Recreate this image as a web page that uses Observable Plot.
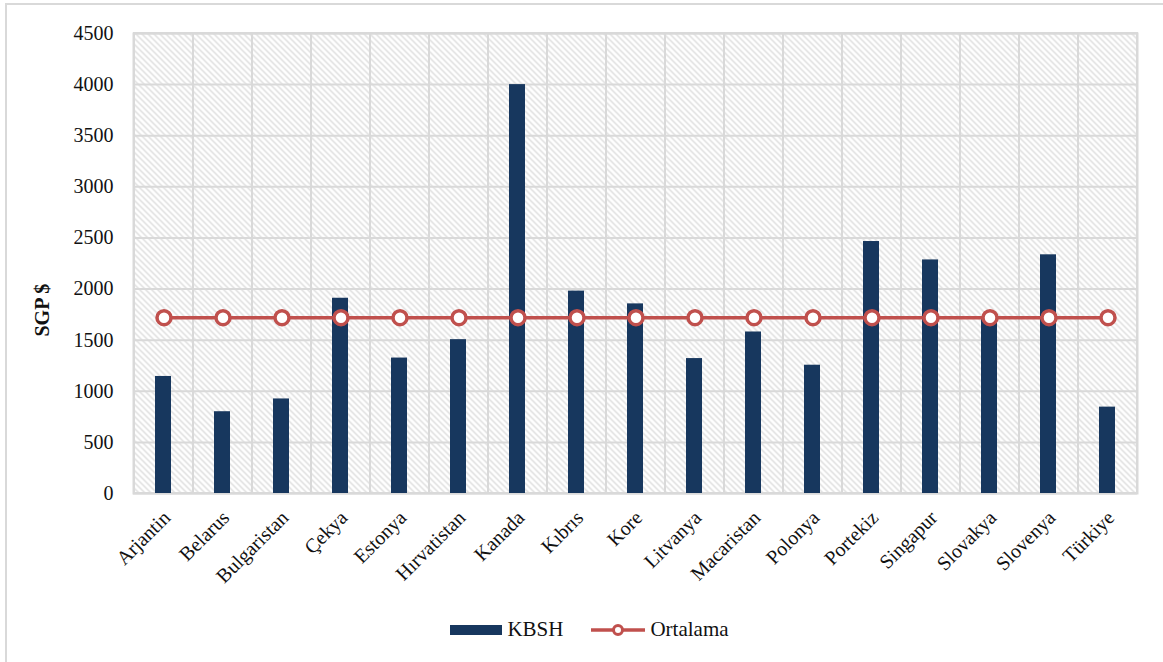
<!DOCTYPE html>
<html>
<head>
<meta charset="utf-8">
<script src="https://cdn.jsdelivr.net/npm/d3@7"></script>
<script src="https://cdn.jsdelivr.net/npm/@observablehq/plot@0.6"></script>
<style>
  html, body { margin: 0; padding: 0; background: #fff; }
  body { width: 1163px; height: 662px; position: relative; overflow: hidden; font-family: "Liberation Serif", "Times New Roman", serif; }
  #frame { position: absolute; left: 5px; top: 3px; width: 1200px; height: 700px; border-top: 2px solid #d9d9d9; border-left: 2px solid #d9d9d9; box-sizing: border-box; }
  #chart { position: absolute; left: 0; top: 0; }
  #legend { position: absolute; top: 617px; left: 0; width: 1163px; display: flex; justify-content: center; align-items: center; gap: 28px; font-size: 21px; color: #111; padding-left: 16px; box-sizing: border-box; }
  .item { display: flex; align-items: center; gap: 5px; }
  #chart svg text { font-family: "Liberation Serif", "Times New Roman", serif; }
</style>
</head>
<body>
<div id="frame"></div>
<div id="chart"></div>
<div id="legend"></div>
<script>
// Countries and their KBSH values (SGP $), with the group average
const countries = ["Arjantin", "Belarus", "Bulgaristan", "Çekya", "Estonya", "Hırvatistan", "Kanada", "Kıbrıs", "Kore", "Litvanya", "Macaristan", "Polonya", "Portekiz", "Singapur", "Slovakya", "Slovenya", "Türkiye"];
const kbsh = [1145, 800, 925, 1910, 1325, 1505, 4000, 1980, 1855, 1320, 1580, 1255, 2465, 2285, 1720, 2335, 845];
const ortalama = [1720, 1720, 1720, 1720, 1720, 1720, 1720, 1720, 1720, 1720, 1720, 1720, 1720, 1720, 1720, 1720, 1720];
const yTicks = [0, 500, 1000, 1500, 2000, 2500, 3000, 3500, 4000, 4500];

const rows = countries.map((c, i) => ({country: c, kbsh: kbsh[i], avg: ortalama[i]}));

const serif = "'Liberation Serif', 'Times New Roman', serif";
const barColor = "#17375e";
const lineColor = "#c0504d";
const gridColor = "#d9d9d9";

const plot = Plot.plot({
  width: 1163,
  height: 600,
  marginTop: 33,
  marginRight: 26,
  marginBottom: 107,
  marginLeft: 133,
  style: {fontFamily: serif, fontSize: "20px", color: "#111", background: "transparent"},
  x: {domain: countries, padding: 0},
  y: {domain: [0, 4500]},
  marks: [
    Plot.frame({fill: "url(#hatch)", stroke: gridColor, strokeWidth: 2}),
    Plot.ruleY(yTicks, {stroke: gridColor, strokeWidth: 2}),
    Plot.barY(countries, {x: d => d, y1: 0, y2: 4500, fill: "none", stroke: gridColor, strokeWidth: 2}),
    Plot.barY(rows, {x: "country", y: "kbsh", fill: barColor, insetLeft: 21, insetRight: 22}),
    Plot.lineY(rows, {x: "country", y: "avg", stroke: lineColor, strokeWidth: 3.5}),
    Plot.dot(rows, {x: "country", y: "avg", r: 7, fill: "white", stroke: lineColor, strokeWidth: 3.5}),
    Plot.axisY({ticks: yTicks, tickFormat: d3.format("d"), tickSize: 0, tickPadding: 20, label: null, fontSize: 20, fontFamily: serif}),
    Plot.axisX({tickRotate: -45, tickSize: 0, tickPadding: 21, dx: 3, label: null, fontSize: 20, fontFamily: serif}),
    Plot.text(["SGP $"], {frameAnchor: "left", dx: -91, dy: 73, rotate: -90, fontWeight: "bold", fontSize: 20, fontFamily: serif, fill: "#111"})
  ]
});

// diagonal hatch used as the plot-area background
const ns = "http://www.w3.org/2000/svg";
const defs = document.createElementNS(ns, "defs");
defs.innerHTML = `<pattern id="hatch" patternUnits="userSpaceOnUse" width="6" height="6">
  <rect width="6" height="6" fill="#ffffff"/>
  <path d="M-1,-1 L7,7 M-1,5 L1,7 M5,-1 L7,1" stroke="#dadada" stroke-width="1.3"/>
</pattern>`;
plot.insertBefore(defs, plot.firstChild);
document.getElementById("chart").appendChild(plot);

// legend
document.getElementById("legend").innerHTML = `
  <div class="item"><svg width="52" height="12"><rect x="0" y="1" width="52" height="10" fill="${barColor}"/></svg><span>KBSH</span></div>
  <div class="item"><svg width="54" height="14"><line x1="0" y1="7" x2="54" y2="7" stroke="${lineColor}" stroke-width="3.5"/><circle cx="27" cy="7" r="4.5" fill="white" stroke="${lineColor}" stroke-width="3"/></svg><span>Ortalama</span></div>
`;
</script>
</body>
</html>
